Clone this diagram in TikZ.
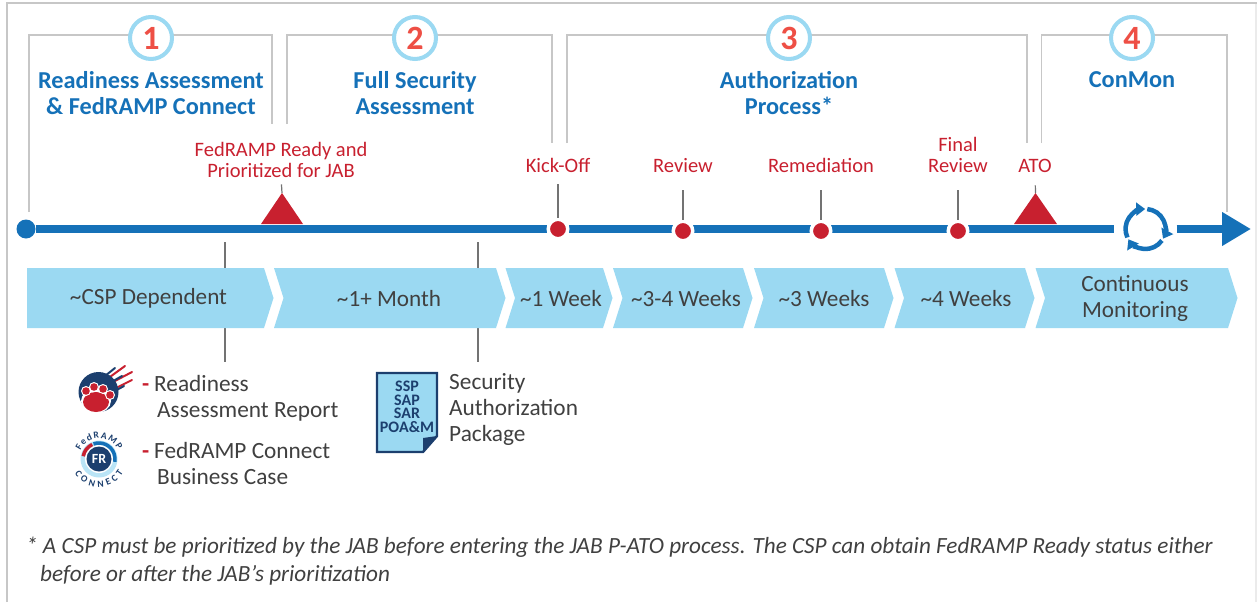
\documentclass[tikz,border=0pt]{standalone}
\usepackage{fontspec}
\setmainfont{Carlito}
\usetikzlibrary{arrows.meta,decorations.text}
\definecolor{axisblue}{HTML}{1571B8}
\definecolor{chevblue}{HTML}{9BD9F2}
\definecolor{navy}{HTML}{1C3F6E}
\definecolor{markred}{HTML}{C8202F}
\definecolor{numred}{HTML}{EE4F45}
\definecolor{bodygray}{HTML}{404040}
\tikzset{
  frameline/.style={draw=black!22,line width=1.4},
  numcircle/.style={circle,draw=chevblue,line width=4,fill=white,minimum size=42,inner sep=0,
    text=numred,font=\fontsize{34}{34}\selectfont\bfseries},
  title/.style={text=axisblue,align=center,font=\fontsize{24.3}{26.5}\selectfont\bfseries},
  redlabel/.style={text=markred,align=center,anchor=base,inner sep=0,font=\fontsize{20.5}{21}\selectfont},
  stem/.style={draw=black!55,line width=1.2},
  reddot/.style={circle,fill=markred,draw=white,line width=3.5,minimum size=19.5,inner sep=0},
  axis/.style={draw=axisblue,line width=8},
  chevron/.style={fill=chevblue},
  chevtext/.style={text=bodygray,align=center,font=\fontsize{23.2}{26}\selectfont},
  body/.style={text=bodygray,align=left,anchor=base west,inner sep=0,font=\fontsize{23.3}{26}\selectfont},
  dashmark/.style={text=markred,anchor=base west,inner sep=0,font=\fontsize{23.3}{26}\selectfont\bfseries},
  note/.style={anchor=base west,inner sep=0,text=bodygray,font=\fontsize{23.2}{28}\selectfont\itshape},
}
\begin{document}
\begin{tikzpicture}[x=1pt,y=-1pt]
  \useasboundingbox (0,0) rectangle (1257,602);
  \draw[draw=black!8,line width=1.5] (1256,3) -- (1256,602);
  \draw[draw=black!22,line width=2] (7,602) |- (1257,3);

  \foreach \l/\bl/\r/\br in {29/212/272/124,287/124/552/143,567/143/1027/143,1041.5/143/1227/212}
    \draw[frameline] (\l,\bl) |- (\r,35) -- (\r,\br);

  \foreach \n/\x in {1/151,2/415,3/789,4/1132}
    \node[numcircle] (num\n) at (\x,38) {\n};

  \node[title] (titleone) at (151,93) {Readiness Assessment\\\& FedRAMP Connect};
  \node[title] (titletwo) at (415,93) {Full Security\\Assessment};
  \node[title] (titlethree) at (789,93) {Authorization\\Process*};
  \node[title] (titlefour) at (1132,80) {ConMon};

  % timeline
  \node[circle,fill=axisblue,minimum size=19,inner sep=0] (startdot) at (26,229) {};
  \node[minimum size=62,circle,inner sep=0] (cycle) at (1145.5,229) {};
  \coordinate (endtip) at (1251,229);
  \draw[axis] (startdot) -- (cycle);
  \draw[axis,-{Triangle[length=29,width=32]}] (cycle) -- (endtip);
  \foreach \a/\b in {-85/29,35/149,155/269}
    \draw[draw=axisblue,line width=4.5,-{Triangle[length=9,width=13]}] (cycle.center) ++(\a:20) arc (\a:\b:20);

  \coordinate (readytip) at (282,193);
  \coordinate (atotip) at (1035.5,193);
  \fill[markred] (261,224) -- (readytip) -- (303,224) -- cycle;
  \fill[markred] (1014,224) -- (atotip) -- (1057,224) -- cycle;

  \node[reddot] (kickdot) at (558,229) {};
  \node[reddot] (reviewdot) at (683,231) {};
  \node[reddot] (remeddot) at (821,231) {};
  \node[reddot] (finaldot) at (958,231) {};

  \node[redlabel] (ready) at (281,177) {FedRAMP Ready and\\Prioritized for JAB};
  \node[redlabel] (kick) at (558,172) {Kick-Off};
  \node[redlabel] (review) at (683,172) {Review};
  \node[redlabel] (remed) at (821,172) {Remediation};
  \node[redlabel] (final) at (958,172) {Final\\Review};
  \node[redlabel] (ato) at (1035,172) {ATO};

  \draw[stem,shorten <=7] (ready.south) -- (readytip);
  \draw[stem,shorten <=12] (kick.south) -- (kickdot);
  \draw[stem,shorten <=18] (review.south) -- (reviewdot);
  \draw[stem,shorten <=18] (remed.south) -- (remeddot);
  \draw[stem,shorten <=18] (final.south) -- (finaldot);
  \draw[stem,shorten <=13] (ato.south) -- (atotip);

  % stems behind the chevrons
  \coordinate (csptop) at (225,242);
  \coordinate (cspend) at (225,362);
  \coordinate (monthtop) at (478,242);
  \coordinate (monthend) at (478,362);
  \draw[stem] (csptop) -- (cspend);
  \draw[stem] (monthtop) -- (monthend);

  \fill[chevron] (27,268) -- (264,268) -- (273.5,298) -- (264,328) -- (27,328) -- cycle;
  \foreach \a/\b in {274/496,505.5/603,613/743,754/884,894.5/1025,1035.5/1228}
    \fill[chevron] (\a,268) -- (\b,268) -- (\b+9.5,298) -- (\b,328) -- (\a,328) -- (\a+9.5,298) -- cycle;

  \node[chevtext] (csp) at (148.5,298.5) {\textasciitilde CSP Dependent};
  \node[chevtext] (month) at (389,298.5) {\textasciitilde 1+ Month};
  \node[chevtext] (oneweek) at (561,298.5) {\textasciitilde 1 Week};
  \node[chevtext] (fourweeks) at (686,298.5) {\textasciitilde 3-4 Weeks};
  \node[chevtext] (threeweeks) at (824,298.5) {\textasciitilde 3 Weeks};
  \node[chevtext] (lastweeks) at (966,298.5) {\textasciitilde 4 Weeks};
  \node[chevtext] (conmon) at (1135,298.5) {Continuous\\Monitoring};

  % paw logo
  \foreach \x/\y/\u/\v in {103/382/125/366,113/382/132/372,116/388/132/380}{
    \draw[markred,line width=2,line cap=round] (\x,\y) -- (\u,\v);
  }
  \draw[navy,line width=2,line cap=round] (95,384) -- (115,368);
  \draw[navy,line width=2,line cap=round] (108,384) -- (122,376);
  \draw[navy,line width=2,line cap=round] (113,392) -- (124,386);
  \fill[navy] (98.5,392) circle (20);
  \fill[white] (96,401) ellipse (15 and 12);
  \fill[markred] (96,402) ellipse (13 and 10);
  \foreach \x/\y in {86/391,94/387,103/389,110/395}{
    \fill[white] (\x,\y) circle (5);
    \fill[markred] (\x,\y) circle (3.8);
  }
  \node[dashmark] (dashone) at (142,391) {-};
  \node[body] (readiness) at (154,391) {Readiness};
  \node[body] (report) at (157,417) {Assessment Report};

  % connect logo
  \fill[chevblue!70] (99,459) circle (18.5);
  \fill[white] (99,459) circle (14);
  \draw[markred,line width=3.5] (99,459) ++(-170:16) arc (-170:-115:16);
  \draw[axisblue,line width=3.5] (99,459) ++(-110:16) arc (-110:10:16);
  \node[circle,fill=navy,minimum size=25,inner sep=0,text=white,font=\fontsize{14}{14}\selectfont\bfseries] (frbadge) at (99,459) {FR};
  \path[postaction={decorate},decoration={text along path,text align={fit to path},
    text={|\fontsize{9.5}{10}\selectfont\bfseries\color{navy}|FedRAMP}}]
    (99,459) ++(-155:20.5) arc (-155:-25:20.5);
  \path[postaction={decorate},decoration={text along path,text align={fit to path},
    text={|\fontsize{9.5}{10}\selectfont\bfseries\color{navy}|CONNECT}}]
    (99,459) ++(150:28) arc (150:30:28);
  \node[dashmark] (dashtwo) at (142,458) {-};
  \node[body] (connect) at (154,458) {FedRAMP Connect};
  \node[body] (business) at (157,484) {Business Case};

  % package document
  \draw[fill=chevblue,draw=navy,line width=2.4] (377,373) -- (437,373) -- (437,436) -- (423,452) -- (377,452) -- cycle;
  \fill[navy] (437,436) -- (423,438) -- (423,452) -- cycle;
  \node[text=navy,align=center,inner sep=0,font=\fontsize{16}{13.5}\selectfont\bfseries] (package) at (407,407) {SSP\\SAP\\SAR\\POA\&M};
  \node[body] (security) at (449,441) {Security\\Authorization\\Package};

  % footnote
  \node[note] (starnote) at (26,553) {* A CSP must be prioritized by the JAB before entering the JAB P-ATO process. The CSP can obtain FedRAMP Ready status either};
  \node[note] (starnotetwo) at (40,581) {before or after the JAB's prioritization};
\end{tikzpicture}
\end{document}
